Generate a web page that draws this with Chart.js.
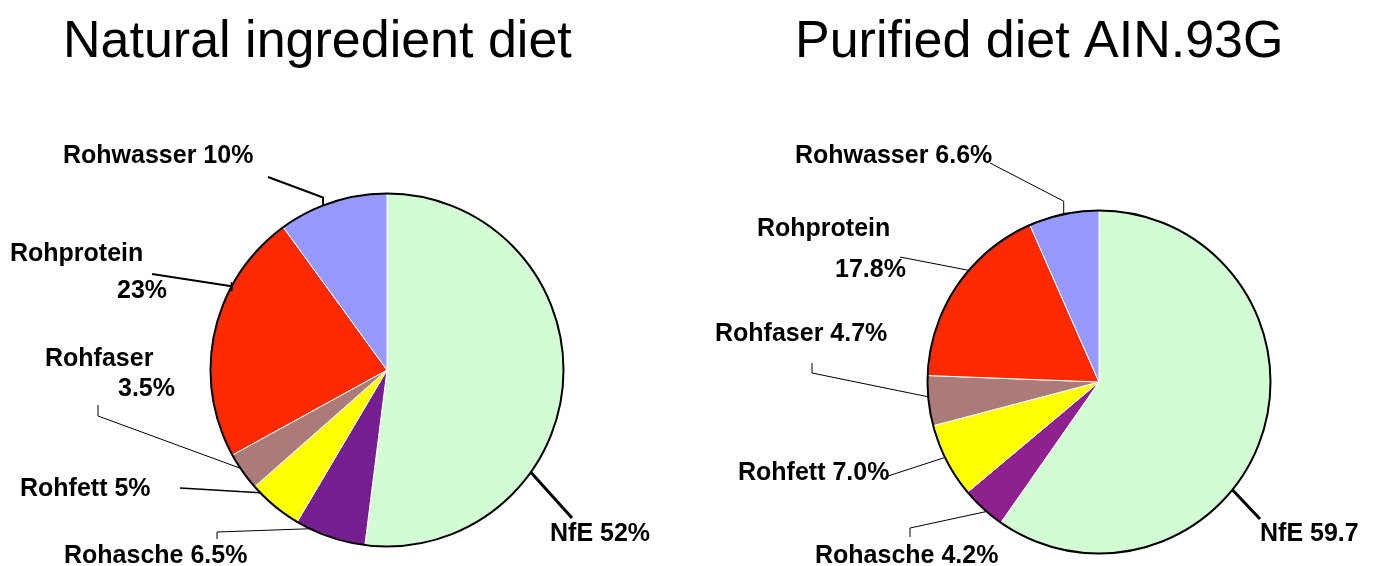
<!DOCTYPE html>
<html>
<head>
<meta charset="utf-8">
<script src="https://cdn.jsdelivr.net/npm/chart.js@4.4.0/dist/chart.umd.min.js"></script>
<style>
    body { margin: 0; background: #fff; }
    #wrap { position: relative; width: 1375px; height: 566px; overflow: hidden; }
    canvas { position: absolute; left: 0; top: 0; }
</style>
</head>
<body>
<div id="wrap">
    <canvas id="naturalChart" width="1375" height="566"></canvas>
    <canvas id="purifiedChart" width="1375" height="566"></canvas>
</div>
<script>
// data (order: clockwise from 12 o'clock)
const categories = ['NfE', 'Rohasche', 'Rohfett', 'Rohfaser', 'Rohprotein', 'Rohwasser'];
const naturalValues = [52, 6.5, 5, 3.5, 23, 10];
const purifiedValues = [59.7, 4.2, 7.0, 4.7, 17.8, 6.6];
const chartTitles = ['Natural ingredient diet', 'Purified diet AIN.93G'];

const naturalColors = ['#D3FCD5', '#741E90', '#FFFF00', '#AA7B78', '#FF2A00', '#9699FF'];
const purifiedColors = ['#D3FCD5', '#8F2090', '#FFFF00', '#AA7B78', '#FF2A00', '#9699FF'];

const LABEL_FONT = 'bold 25px "Liberation Sans", Arial, sans-serif';
const TITLE_FONT = '52px "Liberation Sans", Arial, sans-serif';

// label placement: text lines (x, baseline), leader start points, where on the slice the line lands
const naturalLayout = [
    { text: [[550, 541]], pts: [[572, 518]], frac: 0.67, lw: 3 },
    { text: [[64, 563]], pts: [[217, 539], [217, 532]], frac: 0.8, lw: 1 },
    { text: [[20, 496]], pts: [[180, 488]], frac: 0.85, lw: 1.5 },
    { text: [[45, 366], [118, 396]], pts: [[98, 405], [98, 416]], frac: 0.6, lw: 1 },
    { text: [[10, 261], [117, 298]], pts: [[152, 274]], frac: 0.69, lw: 2, tick: true },
    { text: [[63, 163]], pts: [[268, 177]], frac: 0.41, lw: 2, rise: 8 }
];
const purifiedLayout = [
    { text: [[1260, 541]], pts: [[1260, 519]], frac: 0.6, lw: 3 },
    { text: [[815, 563]], pts: [[910, 537], [910, 528]], frac: 0.4, lw: 1 },
    { text: [[738, 480]], pts: [[885, 477]], frac: 0.55, lw: 1 },
    { text: [[715, 341]], pts: [[812, 363], [812, 373]], frac: 0.58, lw: 1 },
    { text: [[757, 236], [835, 277]], pts: [[900, 257]], frac: 0.6, lw: 1 },
    { text: [[795, 163]], pts: [[990, 163]], frac: 0.5, lw: 1, rise: 13 }
];

function makeLabelPlugin(title, titleX, values, layout, fmt, clipRight) {
    return {
        id: 'pieLabels',
        afterDatasetsDraw(chart) {
            const ctx = chart.ctx;
            const meta = chart.getDatasetMeta(0);
            const first = meta.data[0];
            const cx = first.x, cy = first.y, r = first.outerRadius;

            ctx.save();
            // black rim round the pie
            ctx.beginPath();
            ctx.arc(cx, cy, r, 0, Math.PI * 2);
            ctx.lineWidth = 2;
            ctx.strokeStyle = '#000';
            ctx.stroke();

            ctx.fillStyle = '#000';
            ctx.textBaseline = 'alphabetic';
            ctx.textAlign = 'left';
            ctx.font = TITLE_FONT;
            ctx.fillText(title, titleX, 57);

            ctx.beginPath();
            ctx.rect(0, 0, clipRight, chart.height);
            ctx.clip();

            ctx.font = LABEL_FONT;
            layout.forEach((spec, i) => {
                const arc = meta.data[i];
                const a = arc.startAngle + (arc.endAngle - arc.startAngle) * spec.frac;
                const ax = cx + Math.cos(a) * r;
                const ay = cy + Math.sin(a) * r;

                ctx.beginPath();
                ctx.moveTo(spec.pts[0][0], spec.pts[0][1]);
                for (let k = 1; k < spec.pts.length; k++) {
                    ctx.lineTo(spec.pts[k][0], spec.pts[k][1]);
                }
                if (spec.rise) {
                    ctx.lineTo(ax, ay - spec.rise);
                }
                ctx.lineTo(ax, ay);
                if (spec.tick) {
                    ctx.moveTo(ax, ay - 4);
                    ctx.lineTo(ax, ay + 5);
                }
                ctx.lineWidth = spec.lw;
                ctx.strokeStyle = '#000';
                ctx.stroke();

                const pct = fmt(values[i]) + '%';
                if (spec.text.length === 2) {
                    ctx.fillText(categories[i], spec.text[0][0], spec.text[0][1]);
                    ctx.fillText(pct, spec.text[1][0], spec.text[1][1]);
                } else {
                    ctx.fillText(categories[i] + ' ' + pct, spec.text[0][0], spec.text[0][1]);
                }
            });
            ctx.restore();
        }
    };
}

function buildPie(canvasId, values, colors, padding, plugin) {
    const ctx = document.getElementById(canvasId).getContext('2d');
    return new Chart(ctx, {
        type: 'pie',
        data: {
            labels: categories,
            datasets: [{
                data: values,
                backgroundColor: colors,
                borderColor: '#ffffff',
                borderWidth: 1
            }]
        },
        options: {
            responsive: false,
            animation: false,
            layout: { padding: padding },
            plugins: {
                legend: { display: false },
                tooltip: { enabled: false },
                title: { display: false }
            }
        },
        plugins: [plugin]
    });
}

buildPie('naturalChart', naturalValues, naturalColors,
    { left: 210, right: 811, top: 193, bottom: 19 },
    makeLabelPlugin(chartTitles[0], 63, naturalValues, naturalLayout, v => String(v), 1375));

buildPie('purifiedChart', purifiedValues, purifiedColors,
    { left: 927, right: 104, top: 210, bottom: 12 },
    makeLabelPlugin(chartTitles[1], 795, purifiedValues, purifiedLayout, v => v.toFixed(1), 1358));
</script>
</body>
</html>
